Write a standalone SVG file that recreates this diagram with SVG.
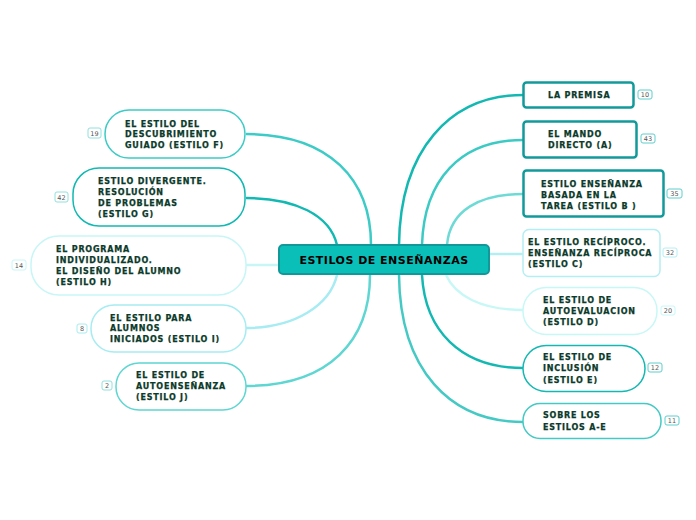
<svg xmlns="http://www.w3.org/2000/svg" width="696" height="520" viewBox="0 0 696 520">
<style>
.t{font-family:"DejaVu Sans",Verdana,sans-serif;font-weight:bold;font-size:8px;letter-spacing:0.8px;fill:#0b3a2a;stroke:#0b3a2a;stroke-width:0.25px;}
.b{fill:#fff;stroke-width:1;}
.bt{font-family:"DejaVu Sans",sans-serif;font-size:6.5px;fill:#555;text-anchor:middle;}
.c{fill:none;stroke-width:2.5;}
</style>
<rect width="696" height="520" fill="#fff"/>
<g id="connectors">
<path class="c" stroke="#3ccbc6" d="M371,245 C371,180 330,134 246,134"/>
<path class="c" stroke="#12b8b2" d="M337,245 C330,215 295,198 246,198"/>
<path class="c" stroke="#c8f6f6" d="M279,265 L246,265"/>
<path class="c" stroke="#a6ecf2" d="M337,275 C330,305 295,328 246,328"/>
<path class="c" stroke="#5ed6d2" d="M370,275 C370,340 330,386 246,386"/>
<path class="c" stroke="#14b8b2" d="M399,245 C400,150 450,95 523,95"/>
<path class="c" stroke="#3ccac4" d="M422,245 C424,180 460,140 523,140"/>
<path class="c" stroke="#6ddad6" d="M447,245 C450,210 480,194 523,194"/>
<path class="c" stroke="#b5eef2" d="M489,254 L523,254"/>
<path class="c" stroke="#c8f8f6" d="M446,275 C455,295 480,310 523,310"/>
<path class="c" stroke="#14b8b2" d="M422,275 C425,330 460,368 523,368"/>
<path class="c" stroke="#44c9c4" d="M399,275 C400,370 450,422 523,422"/>
</g>
<g id="center">
<rect x="279" y="245" width="210" height="29" rx="4" fill="#0bbfb9" stroke="#13989a" stroke-width="2"/>
<text x="384" y="264" text-anchor="middle" style="font-family:'DejaVu Sans',Verdana,sans-serif;font-weight:bold;font-size:11px;letter-spacing:0.5px;fill:#000;">ESTILOS DE ENSEÑANZAS</text>
</g>
<g id="nodeF">
<rect x="105" y="110" width="140" height="48" rx="24" fill="#fff" stroke="#3ccbc6" stroke-width="1.5"/>
<text class="t" x="125" y="127">EL ESTILO DEL</text>
<text class="t" x="125" y="137">DESCUBRIMIENTO</text>
<text class="t" x="125" y="148">GUIADO (ESTILO F)</text>
<rect class="b" x="88" y="128" width="13" height="10" rx="2" stroke="#8fe0dc"/>
<text class="bt" x="94.5" y="135.5">19</text>
</g>
<g id="nodeG">
<rect x="73" y="168" width="172" height="58" rx="26" fill="#fff" stroke="#12b8b2" stroke-width="1.5"/>
<text class="t" x="98" y="184">ESTILO DIVERGENTE.</text>
<text class="t" x="98" y="195">RESOLUCIÓN</text>
<text class="t" x="98" y="206">DE PROBLEMAS</text>
<text class="t" x="98" y="217">(ESTILO G)</text>
<rect class="b" x="55" y="192" width="13" height="10" rx="2" stroke="#8fe0dc"/>
<text class="bt" x="61.5" y="199.5">42</text>
</g>
<g id="nodeH">
<rect x="31" y="236" width="215" height="59" rx="28" fill="#fff" stroke="#c8f6f6" stroke-width="1.5"/>
<text class="t" x="56" y="252">EL PROGRAMA</text>
<text class="t" x="56" y="263">INDIVIDUALIZADO.</text>
<text class="t" x="56" y="274">EL DISEÑO DEL ALUMNO</text>
<text class="t" x="56" y="285">(ESTILO H)</text>
<rect class="b" x="12" y="260" width="14" height="10" rx="2" stroke="#c8f6f6"/>
<text class="bt" x="19" y="267.5">14</text>
</g>
<g id="nodeI">
<rect x="91" y="305" width="155" height="47" rx="23" fill="#fff" stroke="#a6ecf2" stroke-width="1.5"/>
<text class="t" x="110" y="321">EL ESTILO PARA</text>
<text class="t" x="110" y="331">ALUMNOS</text>
<text class="t" x="110" y="342">INICIADOS (ESTILO I)</text>
<rect class="b" x="77" y="324" width="10" height="9" rx="2" stroke="#a6ecf2"/>
<text class="bt" x="82" y="331">8</text>
</g>
<g id="nodeJ">
<rect x="116" y="363" width="130" height="47" rx="23" fill="#fff" stroke="#5ed6d2" stroke-width="1.5"/>
<text class="t" x="136" y="378">EL ESTILO DE</text>
<text class="t" x="136" y="389">AUTOENSEÑANZA</text>
<text class="t" x="136" y="400">(ESTILO J)</text>
<rect class="b" x="102" y="381" width="10" height="9" rx="2" stroke="#8fe0dc"/>
<text class="bt" x="107" y="388">2</text>
</g>
<g id="nodeA0">
<rect x="523.5" y="82.5" width="110" height="25" rx="3" fill="#fff" stroke="#12999a" stroke-width="2.5"/>
<text class="t" x="548" y="98">LA PREMISA</text>
<rect class="b" x="638" y="90" width="14" height="9" rx="2" stroke="#5ccfcb"/>
<text class="bt" x="645" y="97">10</text>
</g>
<g id="nodeA">
<rect x="523.5" y="121.5" width="113" height="36" rx="3" fill="#fff" stroke="#12999a" stroke-width="2.5"/>
<text class="t" x="548" y="137">EL MANDO</text>
<text class="t" x="548" y="148">DIRECTO (A)</text>
<rect class="b" x="641" y="134" width="14" height="9" rx="2" stroke="#5ccfcb"/>
<text class="bt" x="648" y="141">43</text>
</g>
<g id="nodeB">
<rect x="523.5" y="170.5" width="140" height="46" rx="3" fill="#fff" stroke="#12999a" stroke-width="2.5"/>
<text class="t" x="541" y="187">ESTILO ENSEÑANZA</text>
<text class="t" x="541" y="198">BASADA EN LA</text>
<text class="t" x="541" y="209">TAREA (ESTILO B )</text>
<rect class="b" x="667" y="189" width="15" height="9" rx="2" stroke="#5ccfcb"/>
<text class="bt" x="674.5" y="196">35</text>
</g>
<g id="nodeC">
<rect x="523" y="229.5" width="137" height="47" rx="6" fill="#fff" stroke="#b5eef2" stroke-width="1.5"/>
<text class="t" x="528" y="245">EL ESTILO RECÍPROCO.</text>
<text class="t" x="528" y="256">ENSEÑANZA RECÍPROCA</text>
<text class="t" x="528" y="267">(ESTILO C)</text>
<rect class="b" x="663" y="248" width="14" height="9" rx="2" stroke="#b5eef2"/>
<text class="bt" x="670" y="255">32</text>
</g>
<g id="nodeD">
<rect x="523" y="287.5" width="134" height="47" rx="23" fill="#fff" stroke="#c8f8f6" stroke-width="1.5"/>
<text class="t" x="543" y="303">EL ESTILO DE</text>
<text class="t" x="543" y="314">AUTOEVALUACION</text>
<text class="t" x="543" y="325">(ESTILO D)</text>
<rect class="b" x="661" y="306" width="14" height="9" rx="2" stroke="#c8f8f6"/>
<text class="bt" x="668" y="313">20</text>
</g>
<g id="nodeE">
<rect x="523" y="345.5" width="122" height="46" rx="23" fill="#fff" stroke="#14b8b2" stroke-width="1.5"/>
<text class="t" x="543" y="360">EL ESTILO DE</text>
<text class="t" x="543" y="371">INCLUSIÓN</text>
<text class="t" x="543" y="383">(ESTILO E)</text>
<rect class="b" x="648" y="363" width="14" height="9" rx="2" stroke="#5ccfcb"/>
<text class="bt" x="655" y="370">12</text>
</g>
<g id="nodeAE">
<rect x="523" y="403.5" width="138" height="35" rx="17" fill="#fff" stroke="#44c9c4" stroke-width="1.5"/>
<text class="t" x="543" y="418">SOBRE LOS</text>
<text class="t" x="543" y="430">ESTILOS A-E</text>
<rect class="b" x="665" y="416" width="14" height="9" rx="2" stroke="#5ccfcb"/>
<text class="bt" x="672" y="423">11</text>
</g>
</svg>
